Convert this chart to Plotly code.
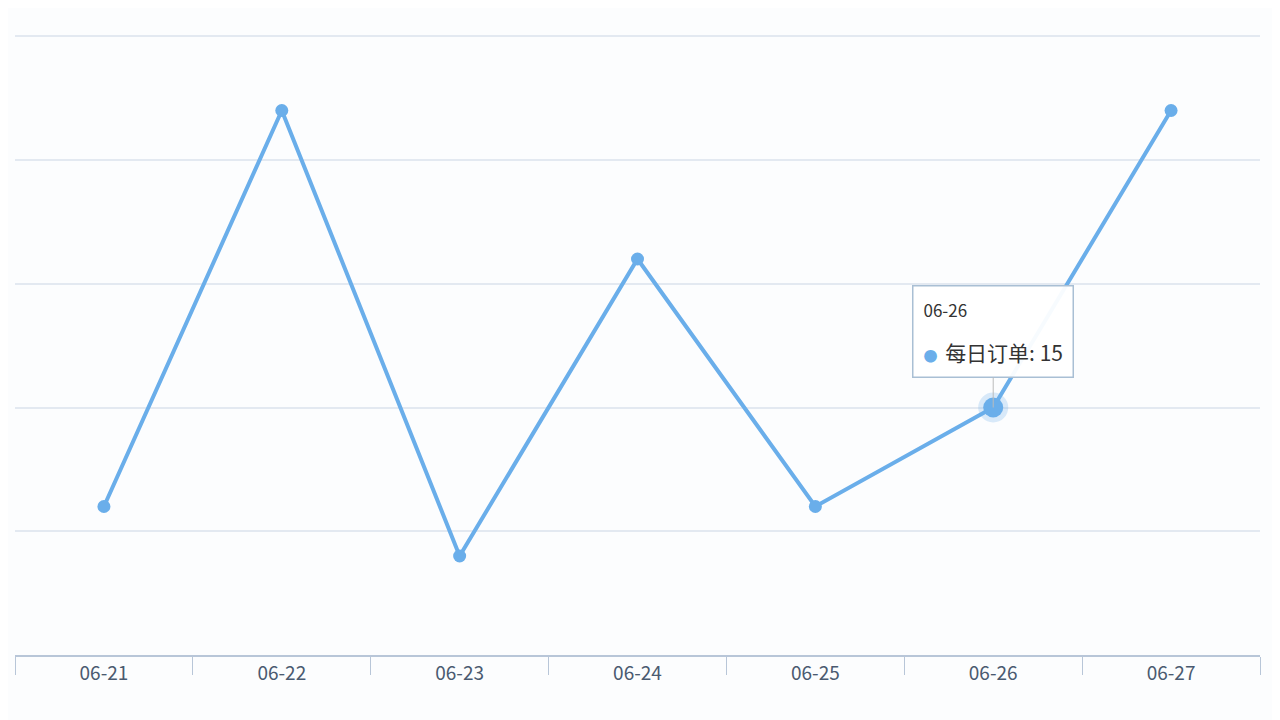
import plotly.graph_objects as go

dates = ["06-21", "06-22", "06-23", "06-24", "06-25", "06-26", "06-27"]
orders = [11, 27, 9, 21, 11, 15, 27]
series_name = "每日订单"
hl_index = 5

color = "#6aaeea"
fig = go.Figure()
fig.add_trace(go.Scatter(x=dates, y=orders, mode="lines+markers",
                         line=dict(color=color, width=4),
                         marker=dict(size=13, color=color), name=series_name))
fig.add_trace(go.Scatter(x=[dates[hl_index]], y=[orders[hl_index]], mode="markers",
                         marker=dict(size=30, color="rgba(106,174,234,0.25)"), hoverinfo="skip"))
fig.add_trace(go.Scatter(x=[dates[hl_index]], y=[orders[hl_index]], mode="markers",
                         marker=dict(size=20, color=color), hoverinfo="skip"))

fig.add_annotation(x=dates[hl_index], y=orders[hl_index], xref="x", yref="y",
                   text="06-26<br><br><span style='font-size:14px;color:#6aaeea'>●</span>  <span style='font-size:21px'>" + series_name + ": 15</span>",
                   showarrow=True, arrowhead=0, arrowcolor="#bbbbbb", ax=0, ay=-30,
                   align="left", bgcolor="rgba(255,255,255,0.95)", bordercolor="#a9bfd4",
                   borderwidth=1.5, borderpad=10, font=dict(size=17, color="#333", family="Noto Sans CJK SC"),
                   yanchor="bottom")

fig.update_layout(
    width=1280, height=720, showlegend=False,
    margin=dict(l=7, r=28, t=27, b=73),
    paper_bgcolor="#fcfdfe", plot_bgcolor="#fcfdfe",
    font=dict(family="Noto Sans CJK SC", color="#4a5a70", size=19),
    xaxis=dict(type="category", showgrid=False, showline=True, linecolor="#b8c6d8", linewidth=1.5,
               ticks="outside", ticklen=18, tickcolor="#b8c6d8", tickson="boundaries",
               range=[-0.5, 6.5], fixedrange=True),
    yaxis=dict(range=[5, 30.05], dtick=5, showticklabels=False, gridcolor="#e3e9f1",
               gridwidth=1.5, zeroline=False),
)
fig.write_html("out.html")
